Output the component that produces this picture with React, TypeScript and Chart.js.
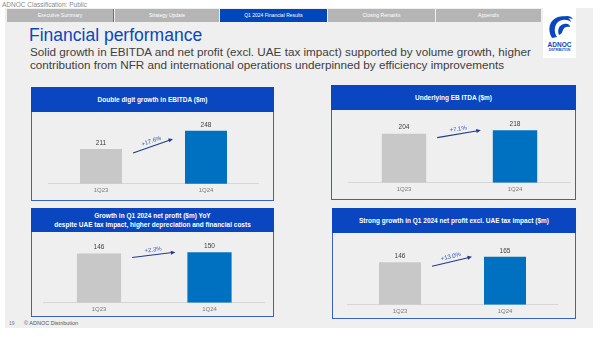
import React, { useEffect, useRef } from "react";
import { Chart, registerables } from "chart.js";

Chart.register(...registerables);

const FONT = '"Liberation Sans", Arial, Helvetica, sans-serif';

// ---- data ----
const categories = ["1Q23", "1Q24"];
const ebitda = [211, 248];
const underlyingEbitda = [204, 218];
const netProfit = [146, 150];
const netProfitExTax = [146, 165];
const growthLabels = ["+17.6%", "+7.1%", "+2.3%", "+13.0%"];
const panelTitles = [
  ["Double digit growth in EBITDA ($m)"],
  ["Underlying EB ITDA ($m)"],
  ["Growth in Q1 2024 net profit ($m) YoY", "despite UAE tax impact, higher depreciation and financial costs"],
  ["Strong growth in Q1 2024 net profit excl. UAE tax impact ($m)"],
];
const axisMin = [140, 0, 0, 0];
const axisMax = [270, 269, 186, 219];
const navTabs = ["Executive Summary", "Strategy Update", "Q1 2024 Financial Results", "Closing Remarks", "Appendix"];

const GRAY = "#c8c8c8";
const BLUE = "#0070c0";
const HEADER = "#0a46bf";
const BORDER = "#3a62c6";

type Geo = {
  left: number; top: number; width: number; headerH: number; bottom: number;
  pad: { left: number; right: number; top: number; bottom: number };
};

const geos: Geo[] = [
  { left: 31, top: 87, width: 243, headerH: 25, bottom: 201, pad: { left: 17.5, right: 15.5, top: 8, bottom: 4 } },
  { left: 331, top: 85, width: 245, headerH: 25, bottom: 200, pad: { left: 17.5, right: 5.5, top: 8, bottom: 4 } },
  { left: 31, top: 208, width: 243, headerH: 24, bottom: 317, pad: { left: 12.75, right: 9.25, top: 8, bottom: 1 } },
  { left: 332, top: 208, width: 244, headerH: 25, bottom: 319, pad: { left: 15.5, right: 18.5, top: 8, bottom: 1 } },
];

const annotPlugin = (growth: string) => ({
  id: "annot" + growth,
  afterDatasetsDraw(chart: any) {
    const ctx = chart.ctx;
    const meta = chart.getDatasetMeta(0);
    const values = chart.data.datasets[0].data;
    const b0 = meta.data[0];
    const b1 = meta.data[1];
    ctx.save();
    // value labels
    ctx.fillStyle = "#404040";
    ctx.font = `6.5px ${FONT}`;
    ctx.textAlign = "center";
    ctx.textBaseline = "middle";
    meta.data.forEach((b: any, i: number) => {
      ctx.fillText(String(values[i]), b.x, b.y - 6);
    });
    // arrow
    const x0 = b0.x + b0.width / 2 + 11;
    const x1 = b1.x - b1.width / 2 - 12;
    const y0 = b0.y + 4;
    const y1 = Math.max(b1.y, y0 - 14);
    const ang = Math.atan2(y1 - y0, x1 - x0);
    ctx.strokeStyle = "#1f3b8f";
    ctx.fillStyle = "#1f3b8f";
    ctx.lineWidth = 1.1;
    ctx.beginPath();
    ctx.moveTo(x0, y0);
    ctx.lineTo(x1 - 3 * Math.cos(ang), y1 - 3 * Math.sin(ang));
    ctx.stroke();
    ctx.beginPath();
    ctx.moveTo(x1, y1);
    ctx.lineTo(x1 - 4.5 * Math.cos(ang) + 2 * Math.sin(ang), y1 - 4.5 * Math.sin(ang) - 2 * Math.cos(ang));
    ctx.lineTo(x1 - 4.5 * Math.cos(ang) - 2 * Math.sin(ang), y1 - 4.5 * Math.sin(ang) + 2 * Math.cos(ang));
    ctx.closePath();
    ctx.fill();
    // growth label
    const mx = (x0 + x1) / 2;
    const my = (y0 + y1) / 2;
    ctx.translate(mx + 5 * Math.sin(ang), my - 5 * Math.cos(ang));
    ctx.rotate(ang);
    ctx.fillStyle = "#2c55b8";
    ctx.font = `6px ${FONT}`;
    ctx.fillText(growth, 0, 0);
    ctx.restore();
  },
});

function BarPanel({ idx, values }: { idx: number; values: number[] }) {
  const ref = useRef<HTMLCanvasElement>(null);
  const g = geos[idx];
  const bodyTop = g.top + g.headerH;
  const cw = g.width;
  const ch = g.bottom - bodyTop;
  useEffect(() => {
    if (!ref.current) return;
    const chart = new Chart(ref.current, {
      type: "bar",
      data: {
        labels: categories,
        datasets: [
          {
            data: values,
            backgroundColor: [GRAY, BLUE],
            barPercentage: 0.4,
            categoryPercentage: 1,
          },
        ],
      },
      options: {
        animation: false,
        responsive: false,
        maintainAspectRatio: false,
        devicePixelRatio: 1,
        layout: { padding: g.pad },
        plugins: { legend: { display: false }, tooltip: { enabled: false } },
        scales: {
          x: {
            grid: { display: false, drawTicks: false },
            border: { display: true, color: "#d6d6d6", width: 1 },
            ticks: { font: { size: 6, family: FONT }, color: "#7a7a7a", padding: 3 },
          },
          y: { display: false, min: axisMin[idx], max: axisMax[idx] },
        },
      },
      plugins: [annotPlugin(growthLabels[idx])],
    } as any);
    return () => chart.destroy();
  }, []);
  const title = panelTitles[idx];
  return (
    <>
      <div
        style={{
          position: "absolute", left: g.left, top: g.top, width: g.width - 2, height: g.bottom - g.top - 2,
          border: `1px solid ${BORDER}`, background: "#efefef",
        }}
      />
      <div
        style={{
          position: "absolute", left: g.left, top: g.top, width: g.width, height: g.headerH,
          background: HEADER, color: "#fff", fontFamily: FONT, fontWeight: "bold", fontSize: 6.5,
          display: "flex", flexDirection: "column", justifyContent: "center", alignItems: "center",
          lineHeight: "9px", textAlign: "center",
        }}
      >
        {title.map((t, i) => (
          <div key={i} style={{ whiteSpace: "nowrap" }}>{t}</div>
        ))}
      </div>
      <canvas
        ref={ref}
        width={cw}
        height={ch}
        style={{ position: "absolute", left: g.left, top: bodyTop, width: cw, height: ch }}
      />
    </>
  );
}

function Logo() {
  return (
    <div style={{ position: "absolute", left: 543, top: 8, width: 33, height: 50, background: "#fff" }}>
      <svg width="33" height="50" viewBox="0 0 33 50">
        <path d="M9 30 C4 22 6 12 15 9 C22 7 27 10 28 14 C24 11 18 11 14 15 C11 19 11 25 14 29 Z" fill="#0a46bf" />
        <path d="M16 27 C14 22 16 17 21 16 C25 15 27 17 27 19 C24 18 21 19 20 22 C19 24 19 26 16 27 Z" fill="#0a46bf" />
        <path d="M20 9 C24 7 28 8 30 11 C27 10 24 10 22 11 Z" fill="#0a46bf" />
      </svg>
      <div style={{ position: "absolute", left: 0, top: 33, width: 33, textAlign: "center", fontFamily: FONT, fontWeight: "bold", fontSize: 6.5, color: "#0a46bf", lineHeight: "7px" }}>ADNOC</div>
      <div style={{ position: "absolute", left: 0, top: 40, width: 33, textAlign: "center", fontFamily: FONT, fontWeight: "bold", fontSize: 3, color: "#0a46bf", lineHeight: "4px" }}>DISTRIBUTION</div>
    </div>
  );
}

export default function App() {
  const tabX = [7, 115, 220, 328, 436];
  const tabW = [106, 104, 107, 107, 105];
  return (
    <div style={{ position: "fixed", left: 0, top: 0, width: 600, height: 337, background: "#fff", overflow: "hidden", fontFamily: FONT }}>
      <div style={{ position: "absolute", left: 5, top: 8, width: 588, height: 320, background: "#efefef" }} />
      <div style={{ position: "absolute", left: 2, top: 1, fontSize: 6.5, color: "#8a8a8a", lineHeight: "8px" }}>ADNOC Classification: Public</div>
      {navTabs.map((t, i) => (
        <div
          key={t}
          style={{
            position: "absolute", left: tabX[i], top: 9, width: tabW[i], height: 13,
            background: i === 2 ? "#0047bb" : "#b5b5b5", color: "#fff", fontSize: 5, lineHeight: "13px",
            textAlign: "center", borderRight: i === 0 ? "1px solid #6e6e6e" : "none",
          }}
        >
          {t}
        </div>
      ))}
      <Logo />
      <div style={{ position: "absolute", left: 29, top: 25, fontSize: 17.5, color: "#0a46bf", lineHeight: "20px", whiteSpace: "nowrap" }}>
        Financial performance
      </div>
      <div style={{ position: "absolute", left: 30, top: 45, fontSize: 11.7, color: "#404040", lineHeight: "13px", whiteSpace: "nowrap" }}>
        <div>Solid growth in EBITDA and net profit (excl. UAE tax impact) supported by volume growth, higher</div>
        <div>contribution from NFR and international operations underpinned by efficiency improvements</div>
      </div>
      <BarPanel idx={0} values={ebitda} />
      <BarPanel idx={1} values={underlyingEbitda} />
      <BarPanel idx={2} values={netProfit} />
      <BarPanel idx={3} values={netProfitExTax} />
      <div style={{ position: "absolute", left: 9, top: 320, fontSize: 5, color: "#7a7a7a", lineHeight: "7px" }}>19</div>
      <div style={{ position: "absolute", left: 24, top: 320, fontSize: 5.5, color: "#555", lineHeight: "7px" }}>© ADNOC Distribution</div>
    </div>
  );
}
